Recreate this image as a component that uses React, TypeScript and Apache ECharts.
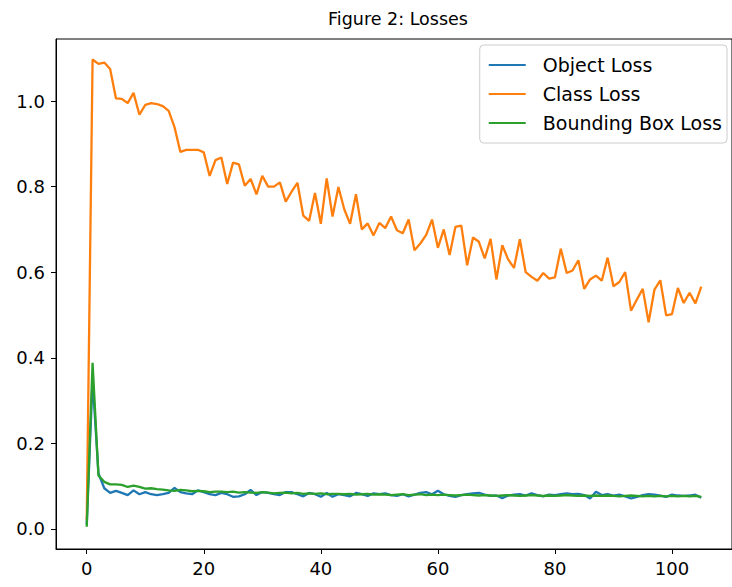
import React, { useEffect, useRef } from "react";
import * as echarts from "echarts";

const epochs: number[] = Array.from({ length: 106 }, (_, i) => i);

const objectLoss: number[] = [
  0.01, 0.35, 0.13, 0.095, 0.084, 0.089, 0.084, 0.079, 0.09, 0.081,
  0.086, 0.081, 0.079, 0.081, 0.084, 0.096, 0.086, 0.083, 0.081, 0.09,
  0.086, 0.081, 0.079, 0.084, 0.081, 0.075, 0.076, 0.081, 0.091, 0.079,
  0.086, 0.084, 0.081, 0.079, 0.086, 0.086, 0.081, 0.076, 0.084, 0.081,
  0.075, 0.084, 0.075, 0.081, 0.079, 0.076, 0.084, 0.081, 0.077, 0.083,
  0.081, 0.083, 0.079, 0.077, 0.081, 0.076, 0.08, 0.084, 0.086, 0.081,
  0.089, 0.081, 0.077, 0.075, 0.079, 0.081, 0.083, 0.084, 0.08, 0.077,
  0.078, 0.072, 0.078, 0.08, 0.081, 0.078, 0.083, 0.079, 0.076, 0.08,
  0.079, 0.081, 0.083, 0.081, 0.082, 0.079, 0.071, 0.087, 0.079, 0.081,
  0.078, 0.08, 0.076, 0.071, 0.075, 0.079, 0.081, 0.08, 0.078, 0.075,
  0.08, 0.078, 0.077, 0.078, 0.08, 0.073,
];

const classLoss: number[] = [
  0.02, 1.097, 1.087, 1.09, 1.075, 1.006, 1.005, 0.995, 1.019, 0.968,
  0.991, 0.995, 0.993, 0.988, 0.977, 0.939, 0.881, 0.886, 0.886, 0.886,
  0.88, 0.825, 0.862, 0.868, 0.806, 0.856, 0.852, 0.802, 0.818, 0.782,
  0.825, 0.8, 0.8, 0.81, 0.765, 0.788, 0.809, 0.732, 0.72, 0.785,
  0.713, 0.819, 0.73, 0.799, 0.747, 0.713, 0.782, 0.7, 0.714, 0.686,
  0.715, 0.703, 0.73, 0.698, 0.691, 0.723, 0.651, 0.667, 0.687, 0.723,
  0.657, 0.7, 0.64, 0.706, 0.709, 0.616, 0.681, 0.671, 0.632, 0.678,
  0.583, 0.663, 0.63, 0.61, 0.677, 0.6, 0.589, 0.58, 0.598, 0.585,
  0.588, 0.655, 0.598, 0.604, 0.628, 0.561, 0.583, 0.592, 0.58, 0.634,
  0.567, 0.577, 0.6, 0.51, 0.536, 0.561, 0.483, 0.559, 0.581, 0.499,
  0.502, 0.563, 0.528, 0.552, 0.527, 0.566,
];

const bboxLoss: number[] = [
  0.005, 0.388, 0.125, 0.11, 0.104, 0.104, 0.103, 0.098, 0.101, 0.098,
  0.094, 0.095, 0.093, 0.092, 0.09, 0.089, 0.091, 0.09, 0.088, 0.089,
  0.088, 0.086, 0.087, 0.087, 0.086, 0.087, 0.085, 0.086, 0.085, 0.084,
  0.086, 0.085, 0.083, 0.084, 0.085, 0.083, 0.084, 0.082, 0.083, 0.082,
  0.083, 0.081, 0.082, 0.082, 0.081, 0.082, 0.08, 0.081, 0.082, 0.08,
  0.081, 0.08, 0.079, 0.08, 0.081, 0.079, 0.08, 0.081, 0.079, 0.08,
  0.079, 0.08, 0.079, 0.078, 0.079, 0.08, 0.079, 0.078, 0.079, 0.078,
  0.077, 0.078, 0.079, 0.078, 0.077, 0.078, 0.079, 0.078, 0.077, 0.078,
  0.077, 0.078, 0.079, 0.078, 0.077, 0.078, 0.077, 0.078, 0.077, 0.078,
  0.077, 0.076, 0.077, 0.078, 0.077, 0.076, 0.077, 0.076, 0.077, 0.076,
  0.077, 0.076, 0.077, 0.076, 0.077, 0.075,
];

const xTicks: number[] = [0, 20, 40, 60, 80, 100];
const yTicks: number[] = [0, 0.2, 0.4, 0.6, 0.8, 1.0];
const seriesNames: string[] = ["Object Loss", "Class Loss", "Bounding Box Loss"];
const colors: string[] = ["#1f77b4", "#ff7f0e", "#2ca02c"];
const title = "Figure 2: Losses";

const FONT = "DejaVu Sans";

export default function App() {
  const ref = useRef<HTMLDivElement>(null);
  useEffect(() => {
    if (!ref.current) return;
    const chart = echarts.init(ref.current, undefined, { renderer: "svg" });
    const allSeries = [objectLoss, classLoss, bboxLoss];
    chart.setOption({
      animation: false,
      backgroundColor: "#ffffff",
      color: colors,
      textStyle: { fontFamily: FONT },
      graphic: [
        {
          type: "text",
          x: 398,
          y: 19,
          style: {
            text: title,
            textAlign: "center",
            textVerticalAlign: "middle",
            fontFamily: FONT,
            fontSize: 17.5,
            fill: "#000",
          },
        },
      ],
      legend: {
        data: seriesNames,
        orient: "vertical",
        right: 5,
        top: 45,
        icon: "rect",
        itemWidth: 37,
        itemHeight: 2,
        itemGap: 7,
        padding: [9, 5, 9, 9],
        borderColor: "#cccccc",
        borderWidth: 1,
        borderRadius: 4,
        backgroundColor: "rgba(255,255,255,0.8)",
        textStyle: {
          fontFamily: FONT,
          fontSize: 19,
          lineHeight: 22,
          color: "#000",
          padding: [0, 0, 0, 12],
        },
      },
      grid: {
        left: 56,
        right: -11,
        top: 39,
        bottom: 38,
        show: true,
        borderColor: "#000",
        borderWidth: 1,
        backgroundColor: "transparent",
      },
      xAxis: {
        type: "value",
        min: -5.25,
        max: 110.25,
        splitLine: { show: false },
        axisLine: { show: true, onZero: false, lineStyle: { color: "#000", width: 1 } },
        axisTick: {
          show: true,
          length: 5,
          customValues: xTicks,
          lineStyle: { color: "#000", width: 1 },
        },
        axisLabel: {
          customValues: xTicks,
          margin: 10,
          color: "#000",
          fontFamily: FONT,
          fontSize: 18,
          formatter: (v: number) => String(Math.round(v)),
        },
      },
      yAxis: {
        type: "value",
        min: -0.047,
        max: 1.145,
        splitLine: { show: false },
        axisLine: { show: true, onZero: false, lineStyle: { color: "#000", width: 1 } },
        axisTick: {
          show: true,
          length: 5,
          customValues: yTicks,
          lineStyle: { color: "#000", width: 1 },
        },
        axisLabel: {
          customValues: yTicks,
          margin: 11,
          color: "#000",
          fontFamily: FONT,
          fontSize: 18,
          formatter: (v: number) => v.toFixed(1),
        },
      },
      series: allSeries.map((vals, k) => ({
        name: seriesNames[k],
        type: "line",
        showSymbol: false,
        symbol: "none",
        lineStyle: { width: 2.3, color: colors[k] },
        itemStyle: { color: colors[k] },
        data: epochs.map((e, i) => [e, vals[i]]),
        z: 2 + k,
      })),
    });
    return () => chart.dispose();
  }, []);
  return (
    <div
      ref={ref}
      style={{ position: "fixed", left: 0, top: 0, width: 732, height: 587 }}
    />
  );
}
